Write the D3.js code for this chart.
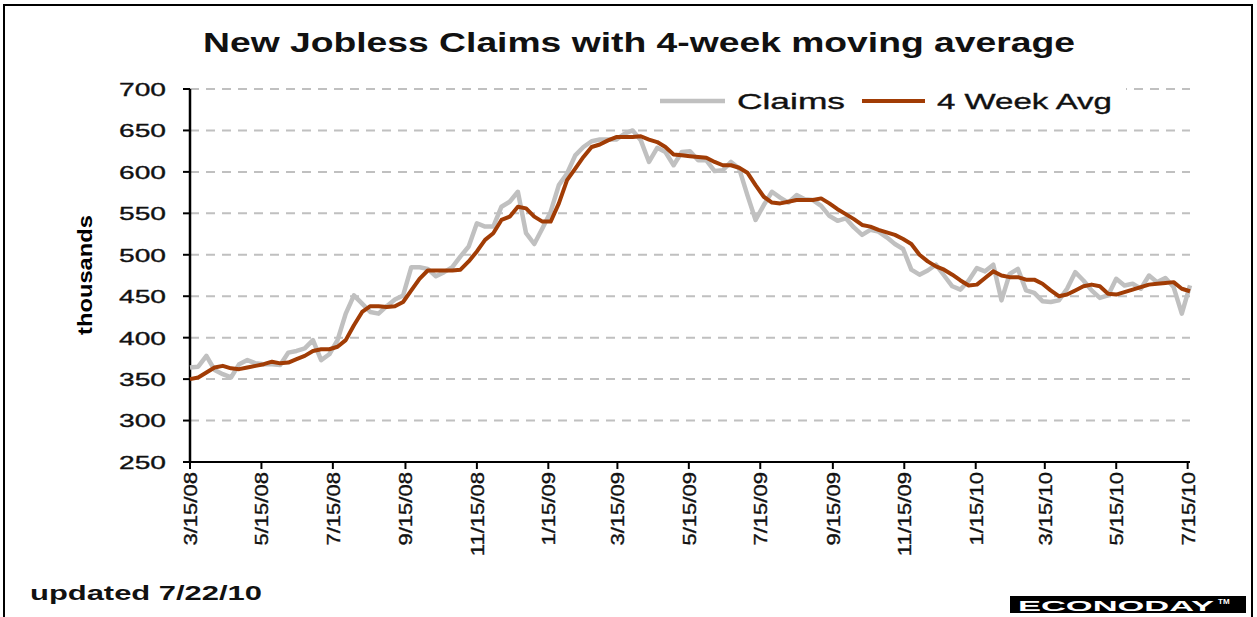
<!DOCTYPE html>
<html>
<head>
<meta charset="UTF-8">
<title>New Jobless Claims with 4-week moving average</title>
<style>
body { margin: 0; background: #fff; }
svg { display: block; font-family: "Liberation Sans", Arial, sans-serif; }
.grid line { stroke: #c0c0c0; stroke-width: 2; stroke-dasharray: 9,7; }
.lbl { fill: #111; stroke: #111; stroke-width: 0.35; }
</style>
</head>
<body>
<svg width="1257" height="617"></svg>
<script src="https://d3js.org/d3.v7.min.js"></script>
<script>
// weekly data, first week ending 3/15/08
var firstWeek = "3/15/08";

var claims = [
  364, 365, 378, 361, 356, 352, 368, 373, 369, 368,
  368, 367, 382, 384, 387, 397, 373, 380, 397, 429,
  451, 441, 431, 429, 438, 446, 451, 485, 485, 483,
  474, 479, 485, 498, 510, 538, 534, 534, 558, 564,
  576, 526, 513, 532, 552, 584, 598, 620, 630, 637,
  639, 639, 639, 646, 650, 638, 612, 629, 624, 608,
  624, 625, 614, 614, 601, 602, 612, 604, 572, 542,
  560, 576, 569, 563, 572, 567, 566, 559, 547, 541,
  544, 533, 524, 530, 528, 521, 513, 507, 482, 476,
  481, 488, 475, 462, 458, 469, 484, 480, 488, 445,
  477, 483, 457, 454, 444, 443, 445, 459, 479, 469,
  457, 448, 451, 471, 463, 465, 459, 475, 467, 472,
  461, 429, 463
];

var avg4 = [
  350, 352, 358, 364, 366, 363, 362, 364, 366, 368,
  371, 369, 370, 374, 378, 384, 386, 386, 389, 397,
  415, 431, 438, 438, 437, 438, 443, 457, 471, 481,
  481, 481, 481, 482, 492, 504, 518, 526, 542, 546,
  558, 556, 546, 540, 540, 562, 590, 604, 618, 630,
  633, 638, 642, 642, 642, 643, 639, 636, 630, 621,
  620, 619, 618, 617, 612, 608, 608, 605, 599, 584,
  570, 563, 562, 564, 566, 566, 566, 568, 562, 555,
  549, 543, 536, 534, 530, 527, 524, 519, 513, 500,
  492, 486, 482, 476, 469, 463, 464, 472, 480, 475,
  473, 473, 470, 470, 465, 457, 450, 452, 457, 462,
  464, 462, 453, 452, 455, 458, 461, 464, 465, 466,
  467, 459, 456
];

var yTicks = [250, 300, 350, 400, 450, 500, 550, 600, 650, 700];
var xTickLabels = ["3/15/08", "5/15/08", "7/15/08", "9/15/08", "11/15/08",
  "1/15/09", "3/15/09", "5/15/09", "7/15/09", "9/15/09", "11/15/09",
  "1/15/10", "3/15/10", "5/15/10", "7/15/10"];

var parse = d3.timeParse("%m/%d/%y");
var weeks = claims.map((d, i) => d3.timeDay.offset(parse(firstWeek), 7 * i));

var svg = d3.select("svg");

// outer frame
svg.append("rect")
    .attr("x", 4).attr("y", 5)
    .attr("width", 1248).attr("height", 620)
    .attr("fill", "none").attr("stroke", "#000").attr("stroke-width", 2);

var x = d3.scaleTime()
    .domain([weeks[0], weeks[weeks.length - 1]])
    .range([190, 1190]);
var y = d3.scaleLinear()
    .domain([250, 700])
    .range([462, 89]);

// gridlines
svg.append("g").attr("class", "grid")
  .selectAll("line")
  .data(yTicks.slice(1))
  .join("line")
    .attr("x1", 190).attr("x2", 1190)
    .attr("y1", d => y(d)).attr("y2", d => y(d));

// legend box sits over the top gridline
svg.append("rect")
    .attr("x", 652).attr("y", 86)
    .attr("width", 474).attr("height", 32)
    .attr("fill", "#fff");

function fit(sel, w) {
  sel.attr("textLength", w).attr("lengthAdjust", "spacingAndGlyphs");
}

// y axis
var yAxis = svg.append("g");
yAxis.append("line")
    .attr("x1", 190).attr("x2", 190)
    .attr("y1", y(700)).attr("y2", y(250))
    .attr("stroke", "#000").attr("stroke-width", 2.5);
yAxis.selectAll("line.tick")
  .data(yTicks)
  .join("line")
    .attr("class", "tick")
    .attr("x1", 183).attr("x2", 190)
    .attr("y1", d => y(d)).attr("y2", d => y(d))
    .attr("stroke", "#000").attr("stroke-width", 2);
yAxis.selectAll("text")
  .data(yTicks)
  .join("text")
    .attr("class", "lbl")
    .attr("x", 166)
    .attr("y", d => y(d))
    .attr("dy", "0.36em")
    .attr("text-anchor", "end")
    .attr("font-size", 19)
    .text(d => d)
    .call(fit, 47);

svg.append("text")
    .attr("transform", "translate(92,275) rotate(-90)")
    .attr("text-anchor", "middle")
    .attr("font-size", 20)
    .attr("font-weight", "bold")
    .text("thousands")
    .call(fit, 120);

// x axis
var xAxis = svg.append("g");
xAxis.append("line")
    .attr("x1", 190).attr("x2", 1190)
    .attr("y1", 462).attr("y2", 462)
    .attr("stroke", "#000").attr("stroke-width", 2);
xAxis.selectAll("line.tick")
  .data(xTickLabels)
  .join("line")
    .attr("class", "tick")
    .attr("x1", d => x(parse(d))).attr("x2", d => x(parse(d)))
    .attr("y1", 462).attr("y2", 469)
    .attr("stroke", "#000").attr("stroke-width", 2);
xAxis.selectAll("text")
  .data(xTickLabels)
  .join("text")
    .attr("class", "lbl")
    .attr("transform", d => "translate(" + (x(parse(d)) + 7) + ",472) rotate(-90)")
    .attr("text-anchor", "end")
    .attr("font-size", 19)
    .text(d => d)
    .each(function() {
      var w = this.getComputedTextLength();
      d3.select(this).call(fit, w * 1.16);
    });

// series
var line = d3.line()
    .x((d, i) => x(weeks[i]))
    .y(d => y(d));

svg.append("path")
    .datum(claims)
    .attr("fill", "none")
    .attr("stroke", "#c0c0c0")
    .attr("stroke-width", 4.5)
    .attr("stroke-linejoin", "round")
    .attr("d", line);

svg.append("path")
    .datum(avg4)
    .attr("fill", "none")
    .attr("stroke", "#a13c05")
    .attr("stroke-width", 4)
    .attr("stroke-linejoin", "round")
    .attr("d", line);

// legend
var legend = svg.append("g");
legend.append("line")
    .attr("x1", 660).attr("x2", 725).attr("y1", 101).attr("y2", 101)
    .attr("stroke", "#c0c0c0").attr("stroke-width", 4.5);
legend.append("text")
    .attr("class", "lbl")
    .attr("x", 737).attr("y", 109)
    .attr("font-size", 22)
    .text("Claims")
    .call(fit, 108);
legend.append("line")
    .attr("x1", 862).attr("x2", 925).attr("y1", 101).attr("y2", 101)
    .attr("stroke", "#a13c05").attr("stroke-width", 4);
legend.append("text")
    .attr("class", "lbl")
    .attr("x", 937).attr("y", 109)
    .attr("font-size", 22)
    .text("4 Week Avg")
    .call(fit, 175);

// title
svg.append("text")
    .attr("x", 639).attr("y", 52)
    .attr("text-anchor", "middle")
    .attr("font-size", 28)
    .attr("font-weight", "bold")
    .attr("fill", "#111")
    .text("New Jobless Claims with 4-week moving average")
    .call(fit, 872);

// footer
svg.append("text")
    .attr("x", 30).attr("y", 600)
    .attr("font-size", 20)
    .attr("font-weight", "bold")
    .attr("fill", "#111")
    .text("updated 7/22/10")
    .call(fit, 232);

svg.append("rect")
    .attr("x", 1010).attr("y", 596)
    .attr("width", 236).attr("height", 17)
    .attr("fill", "#000");
svg.append("text")
    .attr("x", 1018).attr("y", 611)
    .attr("font-size", 15)
    .attr("font-weight", "bold")
    .attr("fill", "#fff")
    .text("ECONODAY")
    .call(fit, 196);
svg.append("text")
    .attr("x", 1218).attr("y", 604)
    .attr("font-size", 8)
    .attr("font-weight", "bold")
    .attr("fill", "#fff")
    .text("TM");
</script>
</body>
</html>
